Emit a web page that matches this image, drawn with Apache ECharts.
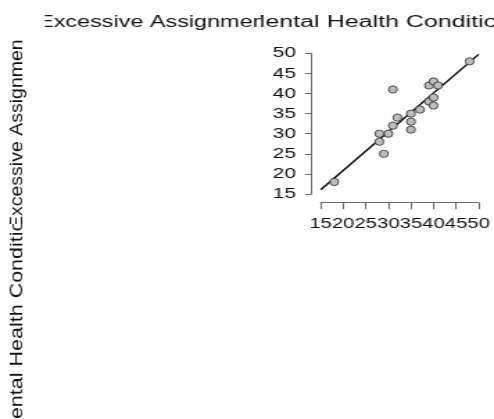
<!DOCTYPE html>
<html><head><meta charset="utf-8">
<script src="https://cdn.jsdelivr.net/npm/echarts@6/dist/echarts.min.js"></script>
<style>
html,body{margin:0;padding:0;overflow:hidden;background:#fff}
#wrap{width:494px;height:419px;overflow:hidden;position:relative}
#c{width:356px;height:419px;transform:scaleX(1.38764);transform-origin:0 0}
</style>
</head><body><div id="wrap"><div id="c"></div></div>
<script>
// Data (x: Mental Health Condition, y: Excessive Assignment)
const mentalHealth = [18,28,28,29,30,31,31,32,35,35,35,37,39,39,40,40,40,41,48];
const excessiveAssignment = [18,30,28,25,30,32,41,34,35,33,31,36,42,38,43,39,37,42,48];
const fitLineX = [15, 50];
const fitLineY = [16.05, 49.73];
const varNames = ['Excessive Assignment', 'Mental Health Condition'];
const axisMin = 15, axisMax = 50, axisStep = 5;

const SX = 494 / 356;
const FONT = '"Liberation Sans", Arial, Helvetica, sans-serif';

const points = mentalHealth.map((x, i) => [x, excessiveAssignment[i]]);
const fitLine = fitLineX.map((x, i) => [x, fitLineY[i]]);

function hText(str, x, y, sx) {
  return { type: 'text', x: x, y: y, scaleX: sx,
    style: { text: str, fontSize: 16, fontFamily: FONT, fill: '#111', align: 'left', verticalAlign: 'middle' } };
}
function vText(str, x, y, along) {
  return { type: 'text', x: x, y: y, rotation: Math.PI / 2, scaleX: along, scaleY: 1 / SX,
    style: { text: str, fontSize: 17, fontFamily: FONT, fill: '#111', align: 'left', verticalAlign: 'middle' } };
}

function renderLabels() {
  return {
    type: 'group',
    children: [
      { type: 'group', clipPath: { type: 'rect', shape: { x: 32.4, y: 0, width: 188.1 - 32.4, height: 45 } },
        children: [hText(varNames[0], 27.4, 22.7, 1.054)] },
      { type: 'group', clipPath: { type: 'rect', shape: { x: 188.1, y: 0, width: 200, height: 45 } },
        children: [hText(varNames[1], 176.3, 22.7, 1.126)] },
      { type: 'group', clipPath: { type: 'rect', shape: { x: 0, y: 39, width: 40, height: 224 - 39 } },
        children: [vText(varNames[0], 12.6, 229, 19.5 / 17)] },
      { type: 'group', clipPath: { type: 'rect', shape: { x: 0, y: 224, width: 40, height: 220 } },
        children: [vText(varNames[1], 12.6, 437, 21.5 / 17)] }
    ]
  };
}

const chart = echarts.init(document.getElementById('c'), null, { renderer: 'canvas' });
chart.setOption({
  animation: false,
  backgroundColor: '#fff',
  grid: { left: 231.1, right: 7.7, top: 53.3, bottom: 225, containLabel: false },
  xAxis: {
    type: 'value', min: axisMin, max: axisMax, interval: axisStep, offset: 8.7,
    axisLine: { show: true, lineStyle: { color: '#6a6a6a', width: 1 } },
    axisTick: { show: true, length: 6.5, lineStyle: { color: '#6a6a6a', width: 1 } },
    axisLabel: { fontSize: 14.5, color: '#111', margin: 14, fontFamily: FONT, hideOverlap: false,
      showMinLabel: true, showMaxLabel: true },
    splitLine: { show: false }
  },
  yAxis: {
    type: 'value', min: axisMin, max: axisMax, interval: axisStep, offset: 6.5,
    axisLine: { show: true, lineStyle: { color: '#6a6a6a', width: 1 } },
    axisTick: { show: true, length: 4.8, lineStyle: { color: '#6a6a6a', width: 1 } },
    axisLabel: { fontSize: 15, color: '#111', margin: 11.3, fontFamily: FONT, hideOverlap: false,
      showMinLabel: true, showMaxLabel: true },
    splitLine: { show: false }
  },
  series: [
    { type: 'line', data: fitLine, symbol: 'none', lineStyle: { color: '#000', width: 1.4 }, z: 3, silent: true },
    { type: 'scatter', data: points, symbol: 'circle', symbolSize: [6.3, 7.3],
      itemStyle: { color: '#bdbdbd', borderColor: '#2a2a2a', borderWidth: 0.8, opacity: 1 }, z: 4 },
    { type: 'custom', coordinateSystem: 'none', data: [0], renderItem: renderLabels, silent: true, z: 5 }
  ]
});
</script>
</body></html>
